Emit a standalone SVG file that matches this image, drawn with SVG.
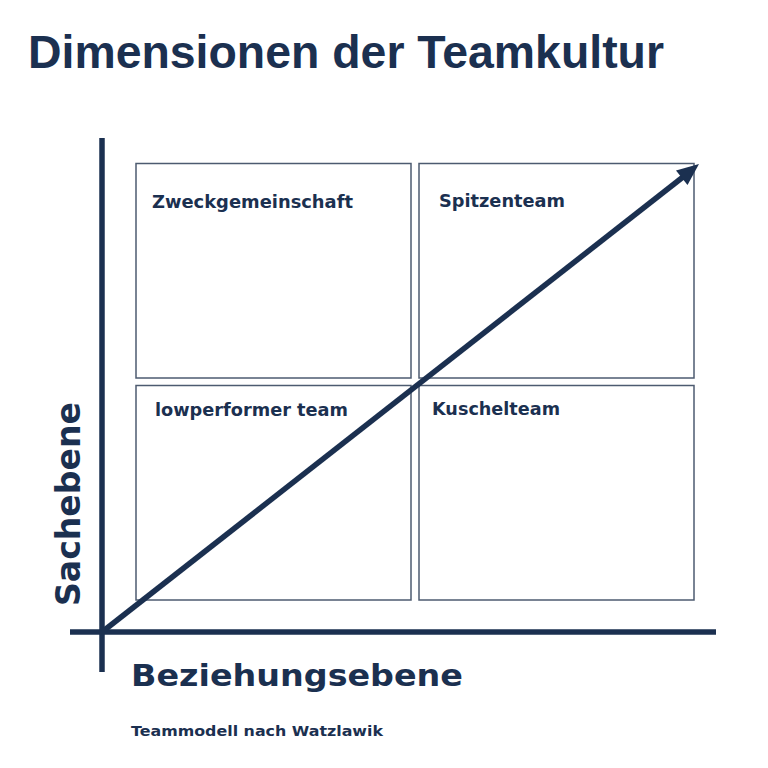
<svg xmlns="http://www.w3.org/2000/svg" width="768" height="768" viewBox="0 0 768 768">
  <style>
    text { font-family: "DejaVu Sans", "Liberation Sans", sans-serif; font-weight: bold; fill: #1b3050; }
    .box { fill: #ffffff; stroke: #4d5b70; stroke-width: 1.5; }
    .axis { stroke: #1b3050; stroke-width: 5.5; fill: none; }
    .label { font-size: 18px; }
  </style>
  <rect x="0" y="0" width="768" height="768" fill="#ffffff"/>
  <text id="title" x="28" y="68" font-size="47" style="font-family: 'Liberation Sans', Arial, sans-serif" textLength="636" lengthAdjust="spacingAndGlyphs">Dimensionen der Teamkultur</text>

  <g id="q-zweck">
    <rect class="box" x="136" y="163.5" width="275" height="214.5"/>
    <text class="label" x="152" y="208" textLength="201" lengthAdjust="spacingAndGlyphs">Zweckgemeinschaft</text>
  </g>
  <g id="q-spitze">
    <rect class="box" x="419" y="163.5" width="275" height="214.5"/>
    <text class="label" x="439" y="207" textLength="126" lengthAdjust="spacingAndGlyphs">Spitzenteam</text>
  </g>
  <g id="q-low">
    <rect class="box" x="136" y="385.5" width="275" height="214.5"/>
    <text class="label" x="155" y="416" textLength="193" lengthAdjust="spacingAndGlyphs">lowperformer team</text>
  </g>
  <g id="q-kuschel">
    <rect class="box" x="419" y="385.5" width="275" height="214.5"/>
    <text class="label" x="432" y="415" textLength="128" lengthAdjust="spacingAndGlyphs">Kuschelteam</text>
  </g>

  <g id="connectors">
    <line class="axis" x1="102" y1="138" x2="102" y2="672"/>
    <line class="axis" x1="70" y1="632" x2="716" y2="632"/>
    <line class="axis" x1="102" y1="632" x2="683" y2="177"/>
    <polygon points="699,164 687.5,185 676,170.5" fill="#1b3050"/>
  </g>

  <g id="axis-y-label">
    <text x="80" y="606" font-size="34" transform="rotate(-90 80 606)" textLength="204" lengthAdjust="spacingAndGlyphs">Sachebene</text>
  </g>
  <g id="axis-x-label">
    <text x="131" y="686" font-size="31" textLength="332" lengthAdjust="spacingAndGlyphs">Beziehungsebene</text>
  </g>
  <text id="caption" x="131" y="736" font-size="14.5" textLength="252" lengthAdjust="spacingAndGlyphs">Teammodell nach Watzlawik</text>
</svg>
